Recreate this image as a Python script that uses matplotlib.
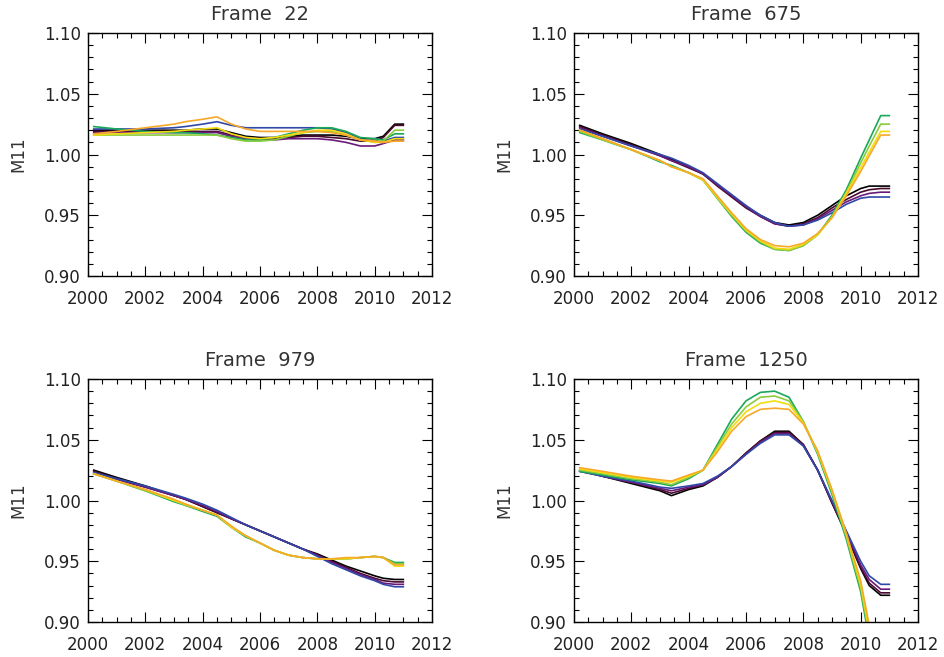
import numpy as np
import matplotlib
matplotlib.use('Agg')
import matplotlib.pyplot as plt
from matplotlib.ticker import MultipleLocator

# sample years shared by every curve
years = [2000.2, 2001.0, 2002.0, 2003.0, 2003.4, 2004.0, 2004.5, 2005.0, 2005.5, 2006.0, 2006.5,
         2007.0, 2007.5, 2008.0, 2008.5, 2009.0, 2009.5, 2010.0, 2010.3, 2010.7, 2011.0]

line_names = ['black', 'maroon', 'purple', 'blue', 'green', 'lgreen', 'yellow', 'orange']
line_colors = ['#000000', '#4a0a30', '#6a1a7a', '#3048a8', '#1aa85a', '#8ccc3c', '#f2dc10', '#f8a828']

titles = ['Frame  22', 'Frame  675', 'Frame  979', 'Frame  1250']

# Frame 22
f22_black = [1.020, 1.020, 1.020, 1.020, 1.020, 1.021, 1.021, 1.018, 1.015, 1.014, 1.014, 1.015, 1.016, 1.016, 1.016, 1.015, 1.013, 1.013, 1.015, 1.025, 1.025]
f22_maroon = [1.019, 1.019, 1.019, 1.019, 1.019, 1.019, 1.019, 1.016, 1.014, 1.013, 1.013, 1.014, 1.015, 1.015, 1.014, 1.013, 1.011, 1.011, 1.014, 1.024, 1.024]
f22_purple = [1.018, 1.018, 1.018, 1.018, 1.018, 1.018, 1.018, 1.015, 1.013, 1.012, 1.012, 1.013, 1.013, 1.013, 1.012, 1.010, 1.007, 1.007, 1.009, 1.012, 1.012]
f22_blue = [1.021, 1.021, 1.021, 1.022, 1.023, 1.025, 1.027, 1.024, 1.022, 1.022, 1.022, 1.022, 1.022, 1.022, 1.021, 1.018, 1.013, 1.010, 1.011, 1.014, 1.014]
f22_green = [1.023, 1.021, 1.019, 1.018, 1.018, 1.017, 1.016, 1.014, 1.012, 1.012, 1.014, 1.017, 1.020, 1.022, 1.022, 1.019, 1.014, 1.013, 1.012, 1.017, 1.017]
f22_lgreen = [1.016, 1.016, 1.016, 1.016, 1.016, 1.016, 1.016, 1.013, 1.011, 1.011, 1.012, 1.015, 1.018, 1.019, 1.019, 1.016, 1.012, 1.011, 1.011, 1.020, 1.020]
f22_yellow = [1.016, 1.017, 1.018, 1.019, 1.020, 1.021, 1.022, 1.017, 1.014, 1.013, 1.014, 1.016, 1.018, 1.020, 1.020, 1.017, 1.012, 1.010, 1.010, 1.013, 1.013]
f22_orange = [1.017, 1.019, 1.022, 1.025, 1.027, 1.029, 1.031, 1.025, 1.021, 1.019, 1.019, 1.019, 1.019, 1.019, 1.018, 1.016, 1.012, 1.011, 1.010, 1.011, 1.011]

# Frame 675
f675_black = [1.024, 1.017, 1.009, 1.000, 0.996, 0.990, 0.984, 0.975, 0.966, 0.957, 0.950, 0.944, 0.942, 0.944, 0.950, 0.958, 0.966, 0.972, 0.974, 0.974, 0.974]
f675_maroon = [1.023, 1.016, 1.008, 0.999, 0.995, 0.989, 0.984, 0.974, 0.965, 0.956, 0.949, 0.943, 0.941, 0.943, 0.948, 0.956, 0.963, 0.969, 0.971, 0.972, 0.972]
f675_purple = [1.022, 1.015, 1.007, 0.999, 0.995, 0.990, 0.984, 0.975, 0.966, 0.957, 0.949, 0.943, 0.941, 0.942, 0.947, 0.954, 0.961, 0.966, 0.968, 0.969, 0.969]
f675_blue = [1.021, 1.015, 1.007, 1.000, 0.997, 0.991, 0.985, 0.976, 0.967, 0.958, 0.950, 0.944, 0.941, 0.942, 0.946, 0.952, 0.959, 0.964, 0.965, 0.965, 0.965]
f675_green = [1.018, 1.012, 1.004, 0.994, 0.991, 0.985, 0.979, 0.964, 0.949, 0.936, 0.927, 0.922, 0.921, 0.925, 0.934, 0.950, 0.971, 0.997, 1.012, 1.032, 1.032]
f675_lgreen = [1.019, 1.012, 1.004, 0.995, 0.990, 0.985, 0.979, 0.964, 0.950, 0.937, 0.928, 0.922, 0.921, 0.925, 0.934, 0.949, 0.969, 0.993, 1.007, 1.025, 1.025]
f675_yellow = [1.020, 1.013, 1.004, 0.995, 0.990, 0.985, 0.979, 0.965, 0.951, 0.938, 0.929, 0.923, 0.922, 0.926, 0.934, 0.948, 0.968, 0.989, 1.002, 1.019, 1.019]
f675_orange = [1.020, 1.013, 1.004, 0.995, 0.990, 0.985, 0.980, 0.966, 0.952, 0.939, 0.930, 0.925, 0.924, 0.927, 0.935, 0.948, 0.966, 0.986, 0.999, 1.016, 1.016]

# Frame 979
f979_black = [1.025, 1.019, 1.012, 1.004, 1.001, 0.995, 0.990, 0.985, 0.980, 0.975, 0.970, 0.965, 0.960, 0.956, 0.951, 0.946, 0.942, 0.938, 0.936, 0.935, 0.935]
f979_maroon = [1.024, 1.018, 1.011, 1.004, 1.001, 0.995, 0.990, 0.985, 0.980, 0.975, 0.970, 0.965, 0.960, 0.955, 0.950, 0.945, 0.940, 0.936, 0.934, 0.933, 0.933]
f979_purple = [1.023, 1.017, 1.011, 1.004, 1.001, 0.996, 0.991, 0.985, 0.980, 0.975, 0.970, 0.965, 0.960, 0.955, 0.949, 0.944, 0.939, 0.935, 0.932, 0.931, 0.931]
f979_blue = [1.023, 1.018, 1.012, 1.005, 1.002, 0.997, 0.992, 0.986, 0.980, 0.975, 0.970, 0.965, 0.960, 0.954, 0.948, 0.943, 0.938, 0.934, 0.931, 0.929, 0.929]
f979_green = [1.022, 1.016, 1.008, 0.999, 0.996, 0.991, 0.987, 0.978, 0.970, 0.965, 0.959, 0.955, 0.953, 0.952, 0.952, 0.952, 0.953, 0.954, 0.953, 0.949, 0.949]
f979_lgreen = [1.022, 1.016, 1.008, 1.000, 0.996, 0.992, 0.988, 0.978, 0.971, 0.965, 0.959, 0.955, 0.953, 0.952, 0.952, 0.952, 0.953, 0.954, 0.953, 0.948, 0.948]
f979_yellow = [1.022, 1.016, 1.009, 1.000, 0.997, 0.992, 0.988, 0.978, 0.971, 0.965, 0.959, 0.955, 0.953, 0.952, 0.952, 0.952, 0.953, 0.954, 0.953, 0.946, 0.946]
f979_orange = [1.022, 1.016, 1.009, 1.001, 0.997, 0.992, 0.988, 0.979, 0.971, 0.965, 0.959, 0.955, 0.953, 0.952, 0.952, 0.953, 0.953, 0.954, 0.953, 0.947, 0.947]

# Frame 1250
f1250_black = [1.025, 1.020, 1.014, 1.008, 1.004, 1.009, 1.012, 1.019, 1.028, 1.039, 1.049, 1.057, 1.057, 1.046, 1.025, 0.998, 0.972, 0.944, 0.930, 0.922, 0.922]
f1250_maroon = [1.025, 1.020, 1.015, 1.009, 1.006, 1.010, 1.013, 1.019, 1.028, 1.039, 1.049, 1.056, 1.056, 1.046, 1.025, 0.998, 0.973, 0.945, 0.932, 0.924, 0.924]
f1250_purple = [1.024, 1.020, 1.015, 1.010, 1.008, 1.011, 1.013, 1.019, 1.028, 1.038, 1.048, 1.055, 1.055, 1.045, 1.025, 0.999, 0.974, 0.947, 0.935, 0.927, 0.927]
f1250_blue = [1.024, 1.020, 1.016, 1.011, 1.010, 1.012, 1.014, 1.020, 1.028, 1.038, 1.047, 1.054, 1.054, 1.045, 1.025, 1.000, 0.975, 0.950, 0.938, 0.931, 0.931]
f1250_green = [1.024, 1.021, 1.017, 1.014, 1.012, 1.018, 1.025, 1.046, 1.067, 1.082, 1.089, 1.090, 1.085, 1.065, 1.038, 1.005, 0.968, 0.925, 0.885, 0.840, 0.840]
f1250_lgreen = [1.025, 1.022, 1.018, 1.015, 1.013, 1.019, 1.025, 1.044, 1.063, 1.077, 1.085, 1.086, 1.082, 1.065, 1.039, 1.007, 0.970, 0.928, 0.889, 0.845, 0.845]
f1250_yellow = [1.026, 1.023, 1.019, 1.016, 1.015, 1.020, 1.025, 1.042, 1.060, 1.073, 1.080, 1.082, 1.079, 1.064, 1.040, 1.008, 0.972, 0.931, 0.893, 0.850, 0.850]
f1250_orange = [1.027, 1.024, 1.020, 1.017, 1.016, 1.021, 1.025, 1.040, 1.057, 1.069, 1.075, 1.076, 1.075, 1.063, 1.041, 1.009, 0.973, 0.934, 0.897, 0.855, 0.855]

panels = [
    [f22_black, f22_maroon, f22_purple, f22_blue, f22_green, f22_lgreen, f22_yellow, f22_orange],
    [f675_black, f675_maroon, f675_purple, f675_blue, f675_green, f675_lgreen, f675_yellow, f675_orange],
    [f979_black, f979_maroon, f979_purple, f979_blue, f979_green, f979_lgreen, f979_yellow, f979_orange],
    [f1250_black, f1250_maroon, f1250_purple, f1250_blue, f1250_green, f1250_lgreen, f1250_yellow, f1250_orange],
]

plt.rcParams['font.family'] = ['DejaVu Sans']

fig = plt.figure(figsize=(9.45, 6.57), dpi=100)

# axes boxes in figure fractions (left, bottom, width, height)
boxes = [
    (88 / 945, 1 - 276 / 657, 344 / 945, 243 / 657),
    (574 / 945, 1 - 276 / 657, 344 / 945, 243 / 657),
    (88 / 945, 1 - 622 / 657, 344 / 945, 243 / 657),
    (574 / 945, 1 - 622 / 657, 344 / 945, 243 / 657),
]

for i in range(4):
    ax = fig.add_axes(boxes[i])
    for vals, col in zip(panels[i], line_colors):
        ax.plot(years, vals, color=col, lw=1.2)
    ax.set_xlim(2000, 2012)
    ax.set_ylim(0.90, 1.10)
    ax.xaxis.set_major_locator(MultipleLocator(2))
    ax.xaxis.set_minor_locator(MultipleLocator(0.5))
    ax.yaxis.set_major_locator(MultipleLocator(0.05))
    ax.yaxis.set_minor_locator(MultipleLocator(0.01))
    ax.yaxis.set_major_formatter(matplotlib.ticker.FormatStrFormatter('%.2f'))
    ax.tick_params(which='both', direction='in', top=True, right=True, colors='black',
                   labelcolor='#222222', labelsize=12, width=0.8)
    ax.tick_params(which='major', length=7)
    ax.tick_params(which='minor', length=3.5)
    ax.tick_params(axis='x', pad=10)
    ax.tick_params(axis='y', pad=5)
    for sp in ax.spines.values():
        sp.set_linewidth(1.0)
    ax.set_title(titles[i], fontsize=14, color='#333333', pad=9)
    ax.set_ylabel('M11', fontsize=12, color='#333333', labelpad=12)

fig.savefig('out.png', dpi=100)
